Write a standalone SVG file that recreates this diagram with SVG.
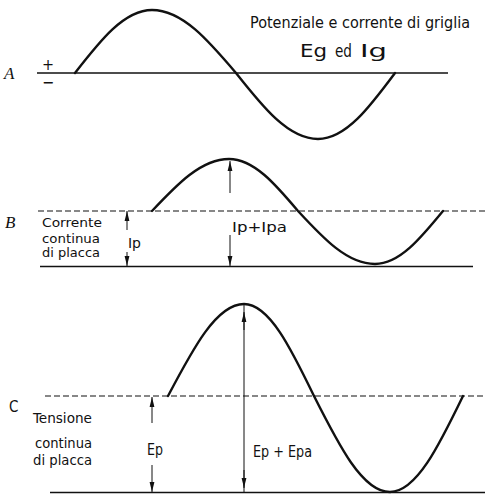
<svg xmlns="http://www.w3.org/2000/svg" width="485" height="496" viewBox="0 0 485 496">
<defs>
<marker id="ah" viewBox="0 0 10 6" refX="10" refY="3" markerWidth="10" markerHeight="6" markerUnits="userSpaceOnUse" orient="auto-start-reverse">
<path d="M0,0.6 L10,3 L0,5.4 Z" fill="#111"/>
</marker>
</defs>
<style>
.wave{fill:none;stroke:#111;stroke-width:2.4;stroke-linecap:round;stroke-linejoin:round}
.axis{fill:none;stroke:#111;stroke-width:1.3}
.dash{fill:none;stroke:#111;stroke-width:1.2;stroke-dasharray:6 3}
.arr{fill:none;stroke:#111;stroke-width:1}
.lbl{font-family:"DejaVu Sans Condensed","DejaVu Sans","Liberation Sans",sans-serif;fill:#111}
.ital{font-family:"Liberation Serif",serif;font-style:italic;fill:#111}
</style>
<rect width="485" height="496" fill="#fff"/>

<g id="panel-A">
<line class="axis" x1="37" y1="73" x2="448" y2="73"/>
<path class="wave" d="M75,73 C100.1,40.7 124.1,10 152,10 C182.4,10 208.6,40.7 236,73 C262.7,106.8 288.3,139 318,139 C345.9,139 369.9,106.8 395,73"/>
<text class="ital" x="4" y="79" font-size="17">A</text>
<text class="lbl" x="48" y="69.5" font-size="16" text-anchor="middle">+</text>
<text class="lbl" x="48" y="87.5" font-size="16" text-anchor="middle">−</text>
<text class="lbl" x="250" y="28" font-size="16" textLength="220" lengthAdjust="spacingAndGlyphs">Potenziale e corrente di griglia</text>
<text class="lbl" x="300" y="57" font-size="17" textLength="27" lengthAdjust="spacingAndGlyphs">Eg</text>
<text class="lbl" x="335" y="57" font-size="17" textLength="17" lengthAdjust="spacingAndGlyphs">ed</text>
<text class="lbl" x="360" y="57" font-size="17" textLength="27" lengthAdjust="spacingAndGlyphs">Ig</text>
</g>

<g id="panel-B">
<line class="dash" x1="38" y1="211" x2="485" y2="211"/>
<line class="axis" x1="40" y1="266.5" x2="473" y2="266.5"/>
<path class="wave" d="M152,211 C177.1,184.4 201.1,159 229,159 C254,159 275.5,184.4 298,211 C323.1,238.1 347.1,264 375,264 C399.6,264 420.8,238.1 443,211"/>
<text class="ital" x="5" y="228" font-size="17">B</text>
<text class="lbl" x="42" y="227" font-size="13" textLength="60" lengthAdjust="spacingAndGlyphs">Corrente</text>
<text class="lbl" x="42" y="243" font-size="13" textLength="58" lengthAdjust="spacingAndGlyphs">continua</text>
<text class="lbl" x="42" y="257" font-size="13" textLength="58" lengthAdjust="spacingAndGlyphs">di placca</text>
<text class="lbl" x="128" y="248" font-size="14" textLength="13" lengthAdjust="spacingAndGlyphs">Ip</text>
<text class="lbl" x="232" y="232" font-size="14" textLength="55" lengthAdjust="spacingAndGlyphs">Ip+Ipa</text>
</g>

<g id="panel-C">
<line class="dash" x1="45" y1="396" x2="485" y2="396"/>
<line class="axis" x1="50" y1="492.5" x2="485" y2="492.5"/>
<path class="wave" d="M168,396 C192.8,348.9 216.5,304 244,304 C269.3,304 291.2,348.9 314,396 C338.8,445.2 362.5,492 390,492 C416.4,492 439.2,445.2 463,396"/>
<text class="lbl" x="9" y="412" font-size="15">C</text>
<text class="lbl" x="33" y="423" font-size="14" textLength="59" lengthAdjust="spacingAndGlyphs">Tensione</text>
<text class="lbl" x="35" y="448" font-size="14" textLength="57" lengthAdjust="spacingAndGlyphs">continua</text>
<text class="lbl" x="33" y="465" font-size="14" textLength="59" lengthAdjust="spacingAndGlyphs">di placca</text>
<text class="lbl" x="147" y="455" font-size="15" textLength="16" lengthAdjust="spacingAndGlyphs">Ep</text>
<text class="lbl" x="253" y="457" font-size="15" textLength="59" lengthAdjust="spacingAndGlyphs">Ep + Epa</text>
</g>

<g id="connectors">
<line class="arr" x1="230" y1="193" x2="230" y2="161" marker-end="url(#ah)"/>
<line class="arr" x1="230" y1="235" x2="230" y2="266" marker-end="url(#ah)"/>
<line class="arr" x1="127" y1="230" x2="127" y2="211" marker-end="url(#ah)"/>
<line class="arr" x1="127" y1="252" x2="127" y2="266" marker-end="url(#ah)"/>
<line class="arr" x1="152" y1="423" x2="152" y2="397" marker-end="url(#ah)"/>
<line class="arr" x1="152" y1="465" x2="152" y2="492" marker-end="url(#ah)"/>
<line class="arr" x1="244" y1="304" x2="244" y2="492"/>
<line class="arr" x1="244" y1="330" x2="244" y2="312" marker-end="url(#ah)"/>
<line class="arr" x1="244" y1="470" x2="244" y2="488" marker-end="url(#ah)"/>
</g>
</svg>
